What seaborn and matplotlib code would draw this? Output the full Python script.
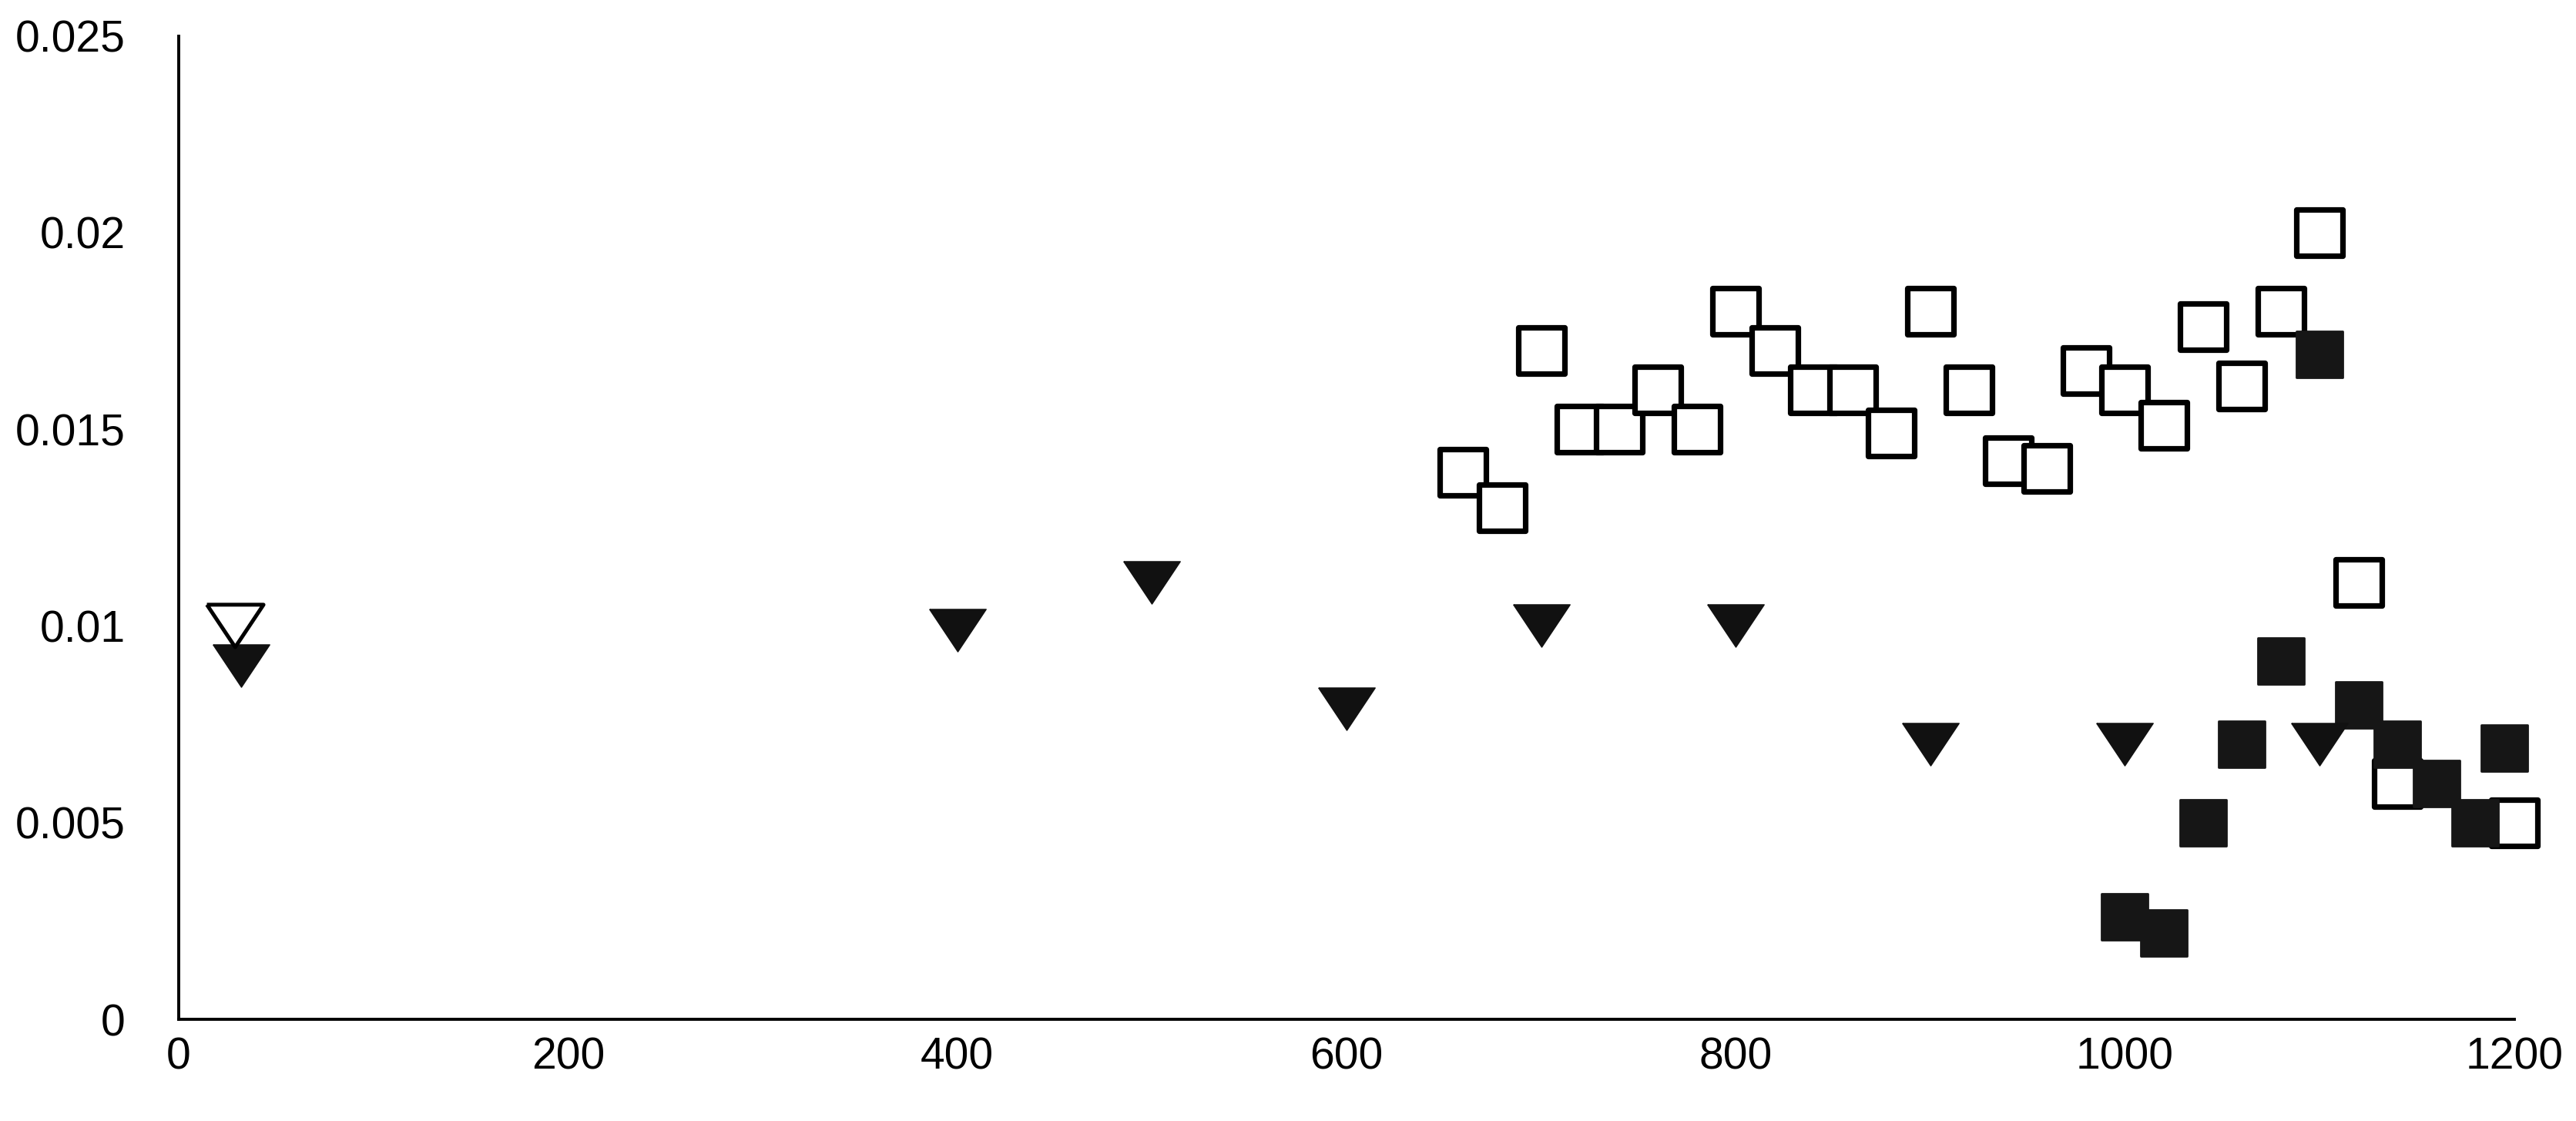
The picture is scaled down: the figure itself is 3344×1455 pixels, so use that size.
#!/usr/bin/env python3
"""
Scatter of three marker series on 0-1200 x range
"""
import seaborn as sns
import matplotlib.pyplot as plt

# open squares
open_sq_x = [660, 680, 700, 720, 740, 760, 780, 800, 820, 840, 860, 880, 900,
             920, 940, 960, 980, 1000, 1020, 1040, 1060, 1080, 1100, 1120,
             1140, 1200]
open_sq_y = [0.0139, 0.0130, 0.0170, 0.0150, 0.0150, 0.0160, 0.0150, 0.0180,
             0.0170, 0.0160, 0.0160, 0.0149, 0.0180, 0.0160, 0.0142, 0.0140,
             0.0165, 0.0160, 0.0151, 0.0176, 0.0161, 0.0180, 0.0200, 0.0111,
             0.0060, 0.0050]

# filled squares
fill_sq_x = [1000, 1020, 1040, 1060, 1080, 1100, 1120, 1140, 1160, 1180, 1195]
fill_sq_y = [0.0026, 0.0022, 0.0050, 0.0070, 0.0091, 0.0169, 0.0080, 0.0070,
             0.0060, 0.0050, 0.0069]

# filled triangles
fill_tri_x = [32, 400, 500, 600, 700, 800, 900, 1000, 1100]
fill_tri_y = [0.0090, 0.0099, 0.0111, 0.0079, 0.0100, 0.0100, 0.0070, 0.0070,
              0.0070]

# open triangle
open_tri_x = [29]
open_tri_y = [0.0100]

x_ticks = [0, 200, 400, 600, 800, 1000, 1200]
y_ticks = [0, 0.005, 0.01, 0.015, 0.02, 0.025]
y_labels = ["0", "0.005", "0.01", "0.015", "0.02", "0.025"]

sns.set_style("white")
plt.rcParams["font.family"] = ["Liberation Sans", "DejaVu Sans"]

fig = plt.figure(figsize=(16.72, 7.275), dpi=200)
ax = fig.add_axes([0.0694, 0.0907, 0.9066, 0.8773])

# wide, flat downward triangle (closed)
tri = [(-1, 0.75), (1, 0.75), (0, -0.75), (-1, 0.75)]

sns.scatterplot(x=open_sq_x, y=open_sq_y, marker="s", s=470,
                facecolor="white", edgecolor="black", linewidth=2.6, ax=ax,
                zorder=3, clip_on=False)
sns.scatterplot(x=fill_sq_x, y=fill_sq_y, marker="s", s=470,
                color="#161616", edgecolor="#161616", linewidth=1.0, ax=ax,
                zorder=4, clip_on=False)
sns.scatterplot(x=fill_tri_x, y=fill_tri_y, marker=tri, s=700,
                color="#111111", edgecolor="#111111", linewidth=0.5, ax=ax,
                zorder=5, clip_on=False)
sns.scatterplot(x=open_tri_x, y=open_tri_y, marker=tri, s=700,
                facecolor="none", edgecolor="black", linewidth=1.8, ax=ax,
                zorder=5, clip_on=False)

ax.set_xlim(0, 1200)
ax.set_ylim(0, 0.025)
ax.set_xticks(x_ticks)
ax.set_yticks(y_ticks)
ax.set_yticklabels(y_labels)
ax.tick_params(axis="both", length=0, labelsize=20.5, colors="black")
ax.tick_params(axis="y", pad=25)
ax.tick_params(axis="x", pad=8)

for side in ["top", "right"]:
    ax.spines[side].set_visible(False)
for side in ["left", "bottom"]:
    ax.spines[side].set_color("black")
    ax.spines[side].set_linewidth(1.4)

ax.set_xlabel("")
ax.set_ylabel("")

fig.savefig("out.png", dpi=200, facecolor="white")
